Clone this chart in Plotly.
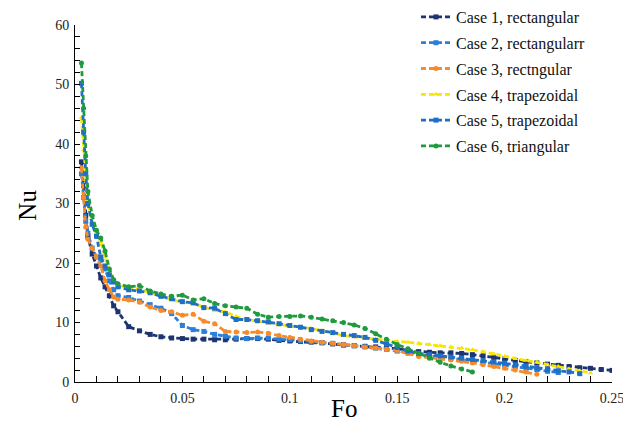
import plotly.graph_objects as go

# --- Data ---
# Fourier number grid shared by all cases; each case stops at its own last point
FO = [0.003, 0.004, 0.005, 0.006, 0.008, 0.010, 0.012, 0.014, 0.016, 0.018,
      0.020, 0.025, 0.030, 0.035, 0.040, 0.045, 0.050, 0.055, 0.060, 0.065,
      0.070, 0.075, 0.080, 0.085, 0.090, 0.095, 0.100, 0.105, 0.110, 0.115,
      0.120, 0.125, 0.130, 0.135, 0.140, 0.145, 0.150, 0.155, 0.160, 0.165,
      0.170, 0.175, 0.180, 0.185, 0.190, 0.195, 0.200, 0.205, 0.210, 0.215,
      0.220, 0.225, 0.230, 0.235, 0.240, 0.245, 0.250]

NU_CASE1 = [37, 33, 28, 24.5, 21.5, 19.5, 17.5, 16, 14.5, 12.8,
            11.8, 9.3, 8.6, 8.0, 7.6, 7.4, 7.3, 7.2, 7.2, 7.1,
            7.1, 7.2, 7.3, 7.3, 7.2, 7.0, 6.9, 6.8, 6.7, 6.6,
            6.4, 6.2, 6.1, 6.0, 5.9, 5.8, 5.6, 5.3, 5.1, 5.0,
            4.9, 4.9, 4.8, 4.6, 4.4, 4.1, 3.9, 3.6, 3.4, 3.2,
            3.0, 2.8, 2.6, 2.4, 2.3, 2.1, 1.95]

NU_CASE2 = [35, 31, 27, 25, 22.5, 21, 20.5, 19, 17, 15.5,
            14.5, 14.2, 13.6, 13.0, 12.4, 11.5, 9.5, 8.8, 8.5, 8.0,
            7.7, 7.4, 7.3, 7.4, 7.4, 7.2, 7.1, 6.9, 6.8, 6.6,
            6.5, 6.3, 6.1, 5.9, 5.7, 5.5, 5.2, 4.9, 4.6, 4.4,
            4.2, 4.0, 3.8, 3.6, 3.3, 3.1, 2.8, 2.6, 2.3, 2.1,
            1.8, 1.6]

NU_CASE3 = [36, 31, 26, 24, 22.5, 21, 19.5, 17, 15.5, 14.3,
            13.9, 13.8, 13.4, 12.6, 12.0, 11.8, 11.2, 11.4, 10.2, 9.8,
            8.5, 8.4, 8.3, 8.4, 8.2, 7.8, 7.5, 7.2, 6.9, 6.7,
            6.5, 6.3, 6.1, 5.9, 5.7, 5.5, 5.3, 4.8, 4.3, 4.1,
            3.9, 3.7, 3.5, 3.2, 2.9, 2.6, 2.3, 2.0, 1.7, 1.3]

NU_CASE4 = [44.4, 39, 34, 30, 27, 25, 23.5, 21, 18.5, 17,
            16.3, 15.8, 15.6, 15.0, 14.4, 13.8, 13.4, 13.2, 12.6, 12.0,
            11.8, 11.0, 10.5, 10.2, 9.9, 9.6, 9.4, 9.2, 9.0, 8.6,
            8.2, 7.8, 7.6, 7.4, 7.2, 6.9, 6.8, 6.7, 6.5, 6.3,
            6.1, 5.9, 5.7, 5.4, 5.1, 4.7, 4.3, 3.9, 3.6, 3.3,
            2.9, 2.6, 2.2, 1.9, 1.5]

NU_CASE5 = [50.2, 42, 35, 30, 26.5, 24.5, 21, 19.5, 18, 16.8,
            16.0, 15.5, 15.3, 15.0, 14.4, 14.0, 13.5, 13.3, 12.5, 12.4,
            11.5, 10.5, 10.5, 10.3, 10.1, 9.8, 9.5, 9.2, 8.8, 8.5,
            8.3, 8.0, 7.8, 7.5, 7.0, 6.4, 5.8, 5.2, 4.8, 4.6,
            4.4, 4.2, 4.0, 3.8, 3.6, 3.4, 3.2, 2.9, 2.7, 2.4,
            2.1, 1.9, 1.7, 1.4]

NU_CASE6 = [53.6, 46, 38, 32, 28, 25.5, 24.2, 22, 19, 17.2,
            16.5, 16.0, 16.2, 15.3, 14.8, 14.4, 14.6, 13.8, 14.0, 13.2,
            12.8, 12.6, 12.4, 11.4, 10.9, 11.0, 11.0, 11.1, 10.9, 10.6,
            10.3, 10.0, 9.6, 9.0, 8.1, 7.2, 6.3, 5.6, 4.8, 4.0,
            3.3, 2.7, 2.2, 1.7]

CASE_NAMES = ["Case 1, rectangular", "Case 2, rectangularr", "Case 3, rectngular",
              "Case 4, trapezoidal", "Case 5, trapezoidal", "Case 6, triangular"]

X_TICKS = [0, 0.05, 0.1, 0.15, 0.2, 0.25]
X_TICK_LABELS = ["0", "0.05", "0.1", "0.15", "0.2", "0.25"]
Y_TICKS = [0, 10, 20, 30, 40, 50, 60]

CASE_COLORS = ['#1c3470', '#2a80d8', '#f78a2a', '#f7e600', '#1f6fc6', '#1f9a3e']
CASE_SYMBOLS = ['square', 'square', 'circle', 'triangle-up', 'square', 'circle']

FONT = "Liberation Serif"


def main():
    series = [NU_CASE1, NU_CASE2, NU_CASE3, NU_CASE4, NU_CASE5, NU_CASE6]

    fig = go.Figure()
    for i, nu in enumerate(series):
        fig.add_trace(go.Scatter(
            x=FO[:len(nu)],
            y=nu,
            name=CASE_NAMES[i],
            legendgroup=str(i),
            mode='lines+markers',
            line=dict(color=CASE_COLORS[i], width=2.8, dash='5px,3px'),
            marker=dict(color=CASE_COLORS[i], size=5, symbol=CASE_SYMBOLS[i]),
        ))

    fig.update_layout(
        width=623,
        height=423,
        margin=dict(l=75, r=11, t=25, b=41, autoexpand=False),
        paper_bgcolor='white',
        plot_bgcolor='white',
        font=dict(family=FONT, color='#222222', size=14),
        showlegend=True,
        legend=dict(
            x=0.635, y=1.07, xanchor='left', yanchor='top',
            bgcolor='rgba(0,0,0,0)',
            font=dict(family=FONT, size=16, color='#111111'),
            tracegroupgap=2,
        ),
        # axis titles placed by hand, as in the reference
        annotations=[
            dict(text='Fo', xref='paper', yref='paper', x=0.5, y=-0.073,
                 xanchor='center', yanchor='middle', showarrow=False,
                 font=dict(family=FONT, size=25, color='black')),
            dict(text='Nu', xref='paper', yref='paper', x=-0.088, y=0.496,
                 xanchor='center', yanchor='middle', showarrow=False, textangle=-90,
                 font=dict(family=FONT, size=25, color='black')),
        ],
    )

    fig.update_xaxes(
        range=[0, 0.25], tickvals=X_TICKS, ticktext=X_TICK_LABELS,
        showline=True, linecolor='black', linewidth=1,
        showgrid=False, zeroline=False, automargin=False,
        ticks='inside', ticklen=6, tickcolor='black', ticklabelstandoff=3,
        ticklabeloverflow='allow',
        minor=dict(dtick=0.01, tick0=0, ticks='inside', ticklen=6, tickcolor='black'),
    )
    fig.update_yaxes(
        range=[0, 60], tickvals=Y_TICKS,
        showline=True, linecolor='black', linewidth=1,
        showgrid=False, zeroline=False, automargin=False,
        ticks='inside', ticklen=5, tickcolor='black', ticklabelstandoff=2,
        minor=dict(dtick=2, tick0=0, ticks='inside', ticklen=5, tickcolor='black'),
    )

    # drop the page's default body margin so the figure fills the window exactly
    fig.write_html(
        "out.html",
        config={'displayModeBar': False},
        post_script="document.body.style.margin = '0';",
    )


if __name__ == "__main__":
    main()
